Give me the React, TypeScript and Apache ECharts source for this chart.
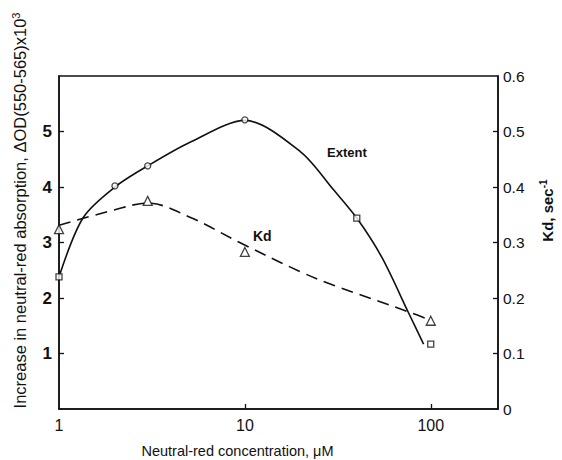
import React, { useEffect, useRef } from "react";
import * as echarts from "echarts";

// Measured points (markers)
const extentConc = [1, 2, 3, 10, 40, 100];
const extentValue = [2.38, 4.02, 4.38, 5.21, 3.44, 1.17];
const extentCircleIdx = [1, 2, 3];
const extentSquareIdx = [0, 4, 5];
const kdConc = [1, 3, 10, 100];
const kdValue = [0.324, 0.375, 0.283, 0.159];

// Fitted curves
const extentCurveConc = [1, 1.35, 2, 3, 5.1, 10, 20, 30, 40, 54.6, 76, 91.5];
const extentCurveValue = [2.38, 3.45, 4.0, 4.38, 4.81, 5.2, 4.63, 3.95, 3.44, 2.73, 1.73, 1.17];
const kdCurveConc = [1, 2, 3, 5.1, 9.5, 20, 30, 76, 100];
const kdCurveValue = [0.331, 0.359, 0.371, 0.345, 0.299, 0.247, 0.223, 0.175, 0.16];

// Tick labels
const xLabelValues = [1, 10, 100];
const xTickValues = [10, 100];
const leftTickValues = [1, 2, 3, 4, 5];
const rightTickValues = [0.1, 0.2, 0.3, 0.4, 0.5];
const rightLabelValues = [0, 0.1, 0.2, 0.3, 0.4, 0.5, 0.6];

const FONT = "'Liberation Sans', Arial, Helvetica, sans-serif";
const INK = "#111";

export default function App() {
  const ref = useRef<HTMLDivElement>(null);
  useEffect(() => {
    if (!ref.current) return;
    document.body.style.margin = "0";
    const chart = echarts.init(ref.current, undefined, { renderer: "svg" });
    const pair = (xs: number[], ys: number[]) => xs.map((x, i) => [x, ys[i]]);
    const option: any = {
      animation: false,
      backgroundColor: "#fff",
      textStyle: { fontFamily: FONT, color: INK },
      grid: {
        left: 59,
        right: 64,
        top: 76,
        bottom: 51,
        containLabel: false,
        outerBoundsMode: "none",
        show: true,
        borderColor: INK,
        borderWidth: 1.5,
        backgroundColor: "transparent",
      },
      xAxis: {
        type: "log",
        logBase: 10,
        min: 1,
        max: 230,
        name: "Neutral-red concentration, μM",
        nameLocation: "middle",
        nameGap: 34,
        nameTextStyle: {
          fontFamily: FONT,
          fontSize: 14.5,
          color: INK,
          padding: [0, 82, 0, 0],
        },
        axisLine: { show: true, lineStyle: { color: INK, width: 1.5 } },
        axisTick: {
          show: true,
          inside: true,
          length: 5,
          customValues: xTickValues,
          lineStyle: { color: INK, width: 1.3 },
        },
        axisLabel: {
          customValues: xLabelValues,
          margin: 8,
          fontFamily: FONT,
          fontSize: 16,
          color: INK,
          formatter: (v: number) => String(Math.round(v)),
        },
        splitLine: { show: false },
        minorTick: { show: false },
      },
      yAxis: [
        {
          type: "value",
          position: "left",
          min: 0,
          max: 6,
          interval: 1,
          name: "Increase in neutral-red absorption, ΔOD(550-565)x10{sup|3}",
          nameLocation: "middle",
          nameRotate: 90,
          nameGap: 29,
          nameTextStyle: {
            fontFamily: FONT,
            fontSize: 16.5,
            color: INK,
            lineHeight: 20,
            padding: [0, 0, 0, 64],
            rich: {
              sup: { fontSize: 11, verticalAlign: "top", lineHeight: 20, fontFamily: FONT, color: INK },
            },
          },
          axisLine: { show: true, lineStyle: { color: INK, width: 1.5 } },
          axisTick: {
            show: true,
            inside: true,
            length: 5,
            customValues: leftTickValues,
            lineStyle: { color: INK, width: 1.3 },
          },
          axisLabel: {
            customValues: leftTickValues,
            margin: 7,
            fontFamily: FONT,
            fontSize: 17,
            fontWeight: "bold",
            color: INK,
          },
          splitLine: { show: false },
        },
        {
          type: "value",
          position: "right",
          min: 0,
          max: 0.6,
          interval: 0.1,
          name: "Kd, sec{sup|-1}",
          nameLocation: "middle",
          nameRotate: 90,
          nameGap: 40,
          nameTextStyle: {
            fontFamily: FONT,
            fontSize: 15,
            fontWeight: "bold",
            color: INK,
            lineHeight: 18,
            padding: [0, 0, 0, 64],
            rich: {
              sup: { fontSize: 10, fontWeight: "bold", verticalAlign: "top", lineHeight: 18, fontFamily: FONT, color: INK },
            },
          },
          axisLine: { show: true, lineStyle: { color: INK, width: 1.5 } },
          axisTick: {
            show: true,
            inside: true,
            length: 5,
            customValues: rightTickValues,
            lineStyle: { color: INK, width: 1.3 },
          },
          axisLabel: {
            customValues: rightLabelValues,
            margin: 5,
            fontFamily: FONT,
            fontSize: 15.5,
            color: INK,
            formatter: (v: number) => (Math.round(v * 10) / 10).toString(),
          },
          splitLine: { show: false },
        },
      ],
      series: [
        {
          name: "Extent curve",
          type: "line",
          yAxisIndex: 0,
          smooth: 0.3,
          symbol: "none",
          data: pair(extentCurveConc, extentCurveValue),
          lineStyle: { color: INK, width: 1.6 },
          z: 2,
        },
        {
          name: "Kd curve",
          type: "line",
          yAxisIndex: 1,
          smooth: 0.35,
          symbol: "none",
          data: pair(kdCurveConc, kdCurveValue),
          lineStyle: { color: INK, width: 1.6, type: [12, 7] },
          z: 2,
        },
        {
          name: "Extent (circles)",
          type: "scatter",
          yAxisIndex: 0,
          symbol: "circle",
          symbolSize: 6,
          data: extentCircleIdx.map((i) => [extentConc[i], extentValue[i]]),
          itemStyle: { color: "#fff", borderColor: INK, borderWidth: 1.3 },
          z: 5,
        },
        {
          name: "Extent (squares)",
          type: "scatter",
          yAxisIndex: 0,
          symbol: "rect",
          symbolSize: 6,
          data: extentSquareIdx.map((i) => [extentConc[i], extentValue[i]]),
          itemStyle: { color: "#fff", borderColor: INK, borderWidth: 1.3 },
          z: 5,
        },
        {
          name: "Kd",
          type: "scatter",
          yAxisIndex: 1,
          symbol: "triangle",
          symbolSize: 9,
          data: pair(kdConc, kdValue),
          itemStyle: { color: "#fff", borderColor: INK, borderWidth: 1.3 },
          z: 5,
        },
      ],
      graphic: [
        {
          type: "text",
          left: 327,
          top: 146,
          style: { text: "Extent", fontFamily: FONT, fontSize: 13, fontWeight: "bold", fill: INK },
        },
        {
          type: "text",
          left: 253,
          top: 229,
          style: { text: "Kd", fontFamily: FONT, fontSize: 14, fontWeight: "bold", fill: INK },
        },
      ],
    };
    chart.setOption(option);
    return () => chart.dispose();
  }, []);
  return <div ref={ref} style={{ width: 562, height: 460 }} />;
}
